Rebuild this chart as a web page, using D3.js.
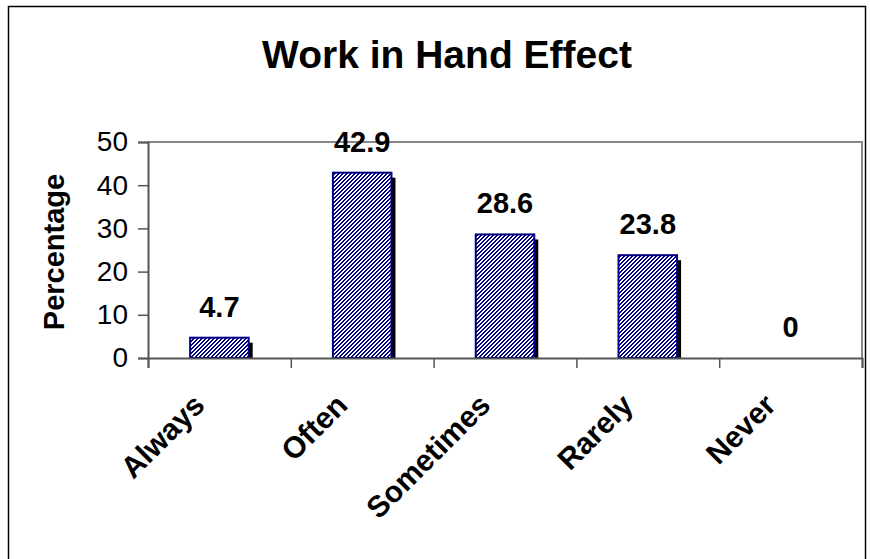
<!DOCTYPE html>
<html lang="en">
<head>
  <meta charset="UTF-8" />
  <title>Work in Hand Effect</title>
  <style>
    body {
      margin: 0;
      background-color: #fff;
      font-family: "Liberation Sans", Arial, sans-serif;
    }
    svg { display: block; }
  </style>
</head>
<body>
  <svg width="870" height="559"></svg>

  <script src="https://d3js.org/d3.v7.min.js"></script>
  <script>
    // chart data
    const categories = ["Always", "Often", "Sometimes", "Rarely", "Never"];
    const values = [4.7, 42.9, 28.6, 23.8, 0];
    const yTicks = [0, 10, 20, 30, 40, 50];

    const svg = d3.select("svg");

    // outer frame (bottom edge runs off the picture)
    svg.append("rect")
      .attr("x", 8.5).attr("y", 6.5)
      .attr("width", 857).attr("height", 600)
      .attr("fill", "none")
      .attr("stroke", "#000")
      .attr("stroke-width", 1.5);

    // hatch pattern for bars: pixel diagonal stripes, navy on white
    const defs = svg.append("defs");
    const pat = defs.append("pattern")
      .attr("id", "hatch")
      .attr("patternUnits", "userSpaceOnUse")
      .attr("width", 4).attr("height", 4);
    pat.append("rect").attr("width", 4).attr("height", 4).attr("fill", "#fff");
    pat.selectAll("rect.px")
      .data(d3.range(4))
      .join("rect")
      .attr("class", "px")
      .attr("x", i => i)
      .attr("y", i => 3 - i)
      .attr("width", 1).attr("height", 1)
      .attr("fill", "#000080")
      .attr("shape-rendering", "crispEdges");
    pat.selectAll("rect.px2")
      .data(d3.range(4))
      .join("rect")
      .attr("class", "px2")
      .attr("x", i => (i + 1) % 4)
      .attr("y", i => 3 - i)
      .attr("width", 1).attr("height", 1)
      .attr("fill", "#000080")
      .attr("shape-rendering", "crispEdges");

    const plot = { left: 148, right: 862, top: 142, bottom: 358 };

    const x = d3.scaleBand()
      .domain(categories)
      .range([plot.left, plot.right])
      .paddingInner(0.59)
      .paddingOuter(0.295);

    const xTickScale = d3.scaleLinear()
      .domain([0, categories.length])
      .range([plot.left, plot.right]);

    const y = d3.scaleLinear()
      .domain([0, 50])
      .range([plot.bottom, plot.top]);

    // title
    svg.append("text")
      .attr("x", 447)
      .attr("y", 68)
      .attr("text-anchor", "middle")
      .style("font-size", "39px")
      .style("font-weight", "bold")
      .text("Work in Hand Effect");

    // plot area border (top and right)
    svg.append("path")
      .attr("d", `M${plot.left},${plot.top} H${plot.right} V${plot.bottom}`)
      .attr("fill", "none")
      .attr("stroke", "#888")
      .attr("stroke-width", 2);

    // bars: shadow then hatched bar
    const bars = svg.append("g");
    const shadowClip = defs.append("clipPath").attr("id", "plotclip");
    shadowClip.append("rect")
      .attr("x", plot.left).attr("y", plot.top)
      .attr("width", plot.right - plot.left)
      .attr("height", plot.bottom - plot.top);

    const data = categories.map((c, i) => ({ c, v: values[i] }));

    bars.selectAll("rect.shadow")
      .data(data.filter(d => d.v > 0))
      .join("rect")
      .attr("class", "shadow")
      .attr("clip-path", "url(#plotclip)")
      .attr("x", d => x(d.c) + 4)
      .attr("y", d => y(d.v) + 5)
      .attr("width", x.bandwidth())
      .attr("height", d => plot.bottom - y(d.v))
      .attr("fill", "#000");

    bars.selectAll("rect.bar")
      .data(data.filter(d => d.v > 0))
      .join("rect")
      .attr("class", "bar")
      .attr("x", d => x(d.c))
      .attr("y", d => y(d.v))
      .attr("width", x.bandwidth())
      .attr("height", d => plot.bottom - y(d.v))
      .attr("fill", "url(#hatch)")
      .attr("stroke", "#000080")
      .attr("stroke-width", 2);

    // value labels
    svg.append("g").selectAll("text")
      .data(data)
      .join("text")
      .attr("x", d => x(d.c) + x.bandwidth() / 2)
      .attr("y", d => y(d.v) - 21)
      .attr("text-anchor", "middle")
      .style("font-size", "29px")
      .style("font-weight", "bold")
      .text(d => d.v);

    // y axis
    const yAxis = svg.append("g")
      .attr("transform", `translate(${plot.left},0)`)
      .call(d3.axisLeft(y).tickValues(yTicks).tickSize(10).tickPadding(10));
    yAxis.select(".domain").attr("stroke", "#555").attr("stroke-width", 2);
    yAxis.selectAll(".tick line").attr("stroke", "#555").attr("stroke-width", 1.5);
    yAxis.selectAll(".tick text")
      .style("font-family", "'Liberation Sans', Arial, sans-serif")
      .style("font-size", "28px")
      .attr("fill", "#000");

    // x axis with category boundary ticks
    const xAxis = svg.append("g")
      .attr("transform", `translate(0,${plot.bottom})`)
      .call(d3.axisBottom(xTickScale).ticks(categories.length).tickSize(10).tickFormat(""));
    xAxis.select(".domain").attr("stroke", "#555").attr("stroke-width", 2);
    xAxis.selectAll(".tick line").attr("stroke", "#555").attr("stroke-width", 1.5);

    // rotated category labels
    svg.append("g").selectAll("text")
      .data(categories)
      .join("text")
      .attr("transform", d => `translate(${x(d) + x.bandwidth() / 2 - 13},${plot.bottom + 49}) rotate(-45)`)
      .attr("text-anchor", "end")
      .style("font-size", "30px")
      .style("font-weight", "bold")
      .text(d => d);

    // y axis title
    svg.append("text")
      .attr("transform", "translate(64,252) rotate(-90)")
      .attr("text-anchor", "middle")
      .style("font-size", "29px")
      .style("font-weight", "bold")
      .text("Percentage");
  </script>
</body>
</html>
